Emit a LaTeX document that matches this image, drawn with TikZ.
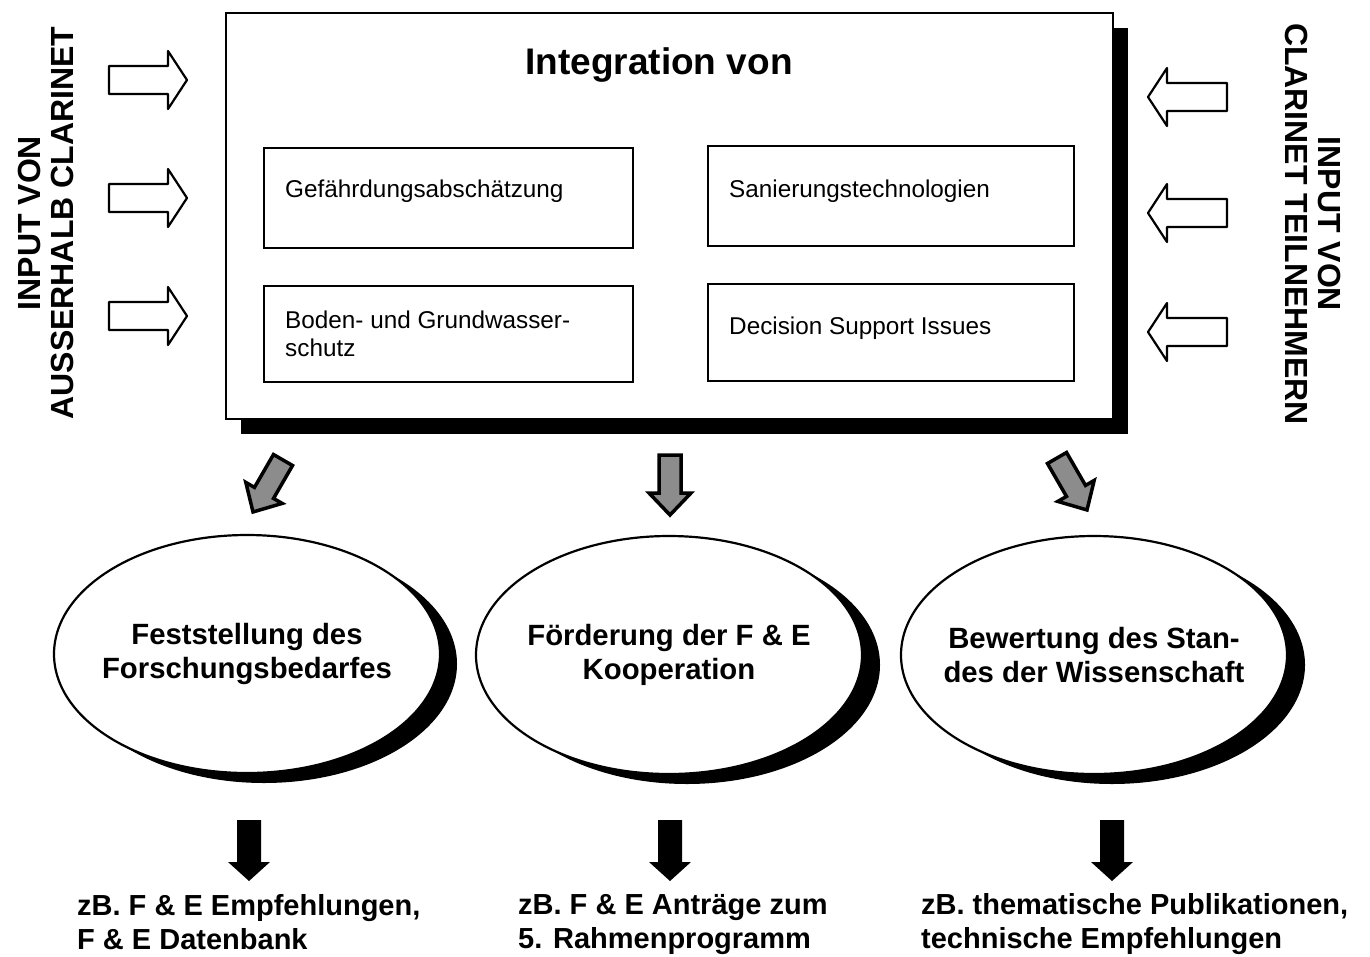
\documentclass[tikz,border=0pt]{standalone}
\usepackage{fontspec}
\setmainfont{Liberation Sans}
\usetikzlibrary{shapes.geometric}
\begin{document}
\begin{tikzpicture}[x=1pt,y=-1pt,
  mainbox/.style={draw, line width=2pt, fill=white},
  topic/.style={draw, line width=1.8pt, anchor=north west, minimum width=369pt, inner sep=0pt},
  topictext/.style={anchor=west, align=left, inner sep=0pt, font=\fontsize{24.3}{28}\selectfont},
  goal/.style={ellipse, draw, line width=2.2pt, fill=white, minimum width=386pt, minimum height=238pt, inner sep=0pt},
  goaltext/.style={align=center, font=\bfseries\fontsize{29.3}{34}\selectfont},
  goalshadow/.style={ellipse, fill=black, minimum width=386pt, minimum height=238pt, inner sep=0pt},
  outline arrow/.style={draw, line width=2.2pt, fill=white, line join=round},
  grey arrow/.style={draw, line width=3.5pt, fill=black!45, line join=miter},
  black arrow/.style={fill=black},
  result/.style={anchor=north west, align=left, font=\bfseries\fontsize{29}{34}\selectfont, inner sep=0pt},
  sidelabel/.style={align=center, font=\bfseries\fontsize{32}{33}\selectfont}
]
\useasboundingbox (0,0) rectangle (1370,956);

% main box with shadow
\fill[black] (241,28) rectangle (1128,434);
\node[mainbox, anchor=north west, minimum width=887pt, minimum height=406pt, inner sep=0pt] (main) at (225,12) {};
\node[font=\bfseries\fontsize{37}{42}\selectfont] (title) at (659,65) {Integration von};

\node[topic, minimum height=100pt] (t1) at (263,147) {};
\node[topictext] (t1l) at (285,191) {Gefährdungsabschätzung};
\node[topic, minimum height=100pt, minimum width=366pt] (t2) at (707,145) {};
\node[topictext] (t2l) at (729,191) {Sanierungstechnologien};
\node[topic, minimum height=96pt] (t3) at (263,285) {};
\node[topictext] (t3l) at (285,334) {Boden- und Grundwasser-\\schutz};
\node[topic, minimum height=97pt, minimum width=366pt] (t4) at (707,283) {};
\node[topictext] (t4l) at (729,328) {Decision Support Issues};

% side labels
\node[sidelabel, rotate=90] (lin) at (46,223) {INPUT VON\\AUSSERHALB CLARINET};
\node[sidelabel, rotate=-90] (rin) at (1313,224) {INPUT VON\\CLARINET TEILNEHMERN};

% left input arrows
\foreach \cy in {80,198,316}{
  \draw[outline arrow] (109,\cy-14) -- (168,\cy-14) -- (168,\cy-29) -- (187,\cy) -- (168,\cy+29) -- (168,\cy+14) -- (109,\cy+14) -- cycle;
}
% right input arrows
\foreach \cy in {97,213,332}{
  \draw[outline arrow] (1227,\cy-14) -- (1167,\cy-14) -- (1167,\cy-29) -- (1148,\cy) -- (1167,\cy+29) -- (1167,\cy+14) -- (1227,\cy+14) -- cycle;
}

% grey arrows
\begin{scope}[shift={(670,455)}]
  \draw[grey arrow] (-11,0) -- (11,0) -- (11,38) -- (21,38) -- (0,60) -- (-21,38) -- (-11,38) -- cycle;
\end{scope}
\begin{scope}[shift={(283,460)}, rotate=-30]
  \draw[grey arrow] (-11,0) -- (11,0) -- (11,38) -- (21,38) -- (0,60) -- (-21,38) -- (-11,38) -- cycle;
\end{scope}
\begin{scope}[shift={(1057,458)}, rotate=30]
  \draw[grey arrow] (-11,0) -- (11,0) -- (11,38) -- (21,38) -- (0,60) -- (-21,38) -- (-11,38) -- cycle;
\end{scope}

% ellipses
\node[goalshadow] at (264,664) {};
\node[goal] (g1) at (247,654) {};
\node[goaltext] (g1l) at (g1) {Feststellung des\\Forschungsbedarfes};
\node[goalshadow] at (687,665) {};
\node[goal] (g2) at (669,655) {};
\node[goaltext] (g2l) at (g2) {Förderung der F \& E\\Kooperation};
\node[goalshadow] at (1112,665) {};
\node[goal] (g3) at (1094,655) {};
\node[goaltext] (g3l) at (g3) {Bewertung des Stan-\\des der Wissenschaft};

% black arrows
\foreach \cx in {249,670,1112}{
  \fill[black arrow] (\cx-12,820) -- (\cx+12,820) -- (\cx+12,862) -- (\cx+21,862) -- (\cx,881) -- (\cx-21,862) -- (\cx-12,862) -- cycle;
}

% results
\node[result] (r1) at (77,894) {zB. F \& E Empfehlungen,\\F \& E Datenbank};
\node[result] (r2) at (518,894) {zB. F \& E Anträge zum\\5. Rahmenprogramm};
\node[result] (r3) at (921,893) {zB. thematische Publikationen,\\technische Empfehlungen};
\end{tikzpicture}
\end{document}
